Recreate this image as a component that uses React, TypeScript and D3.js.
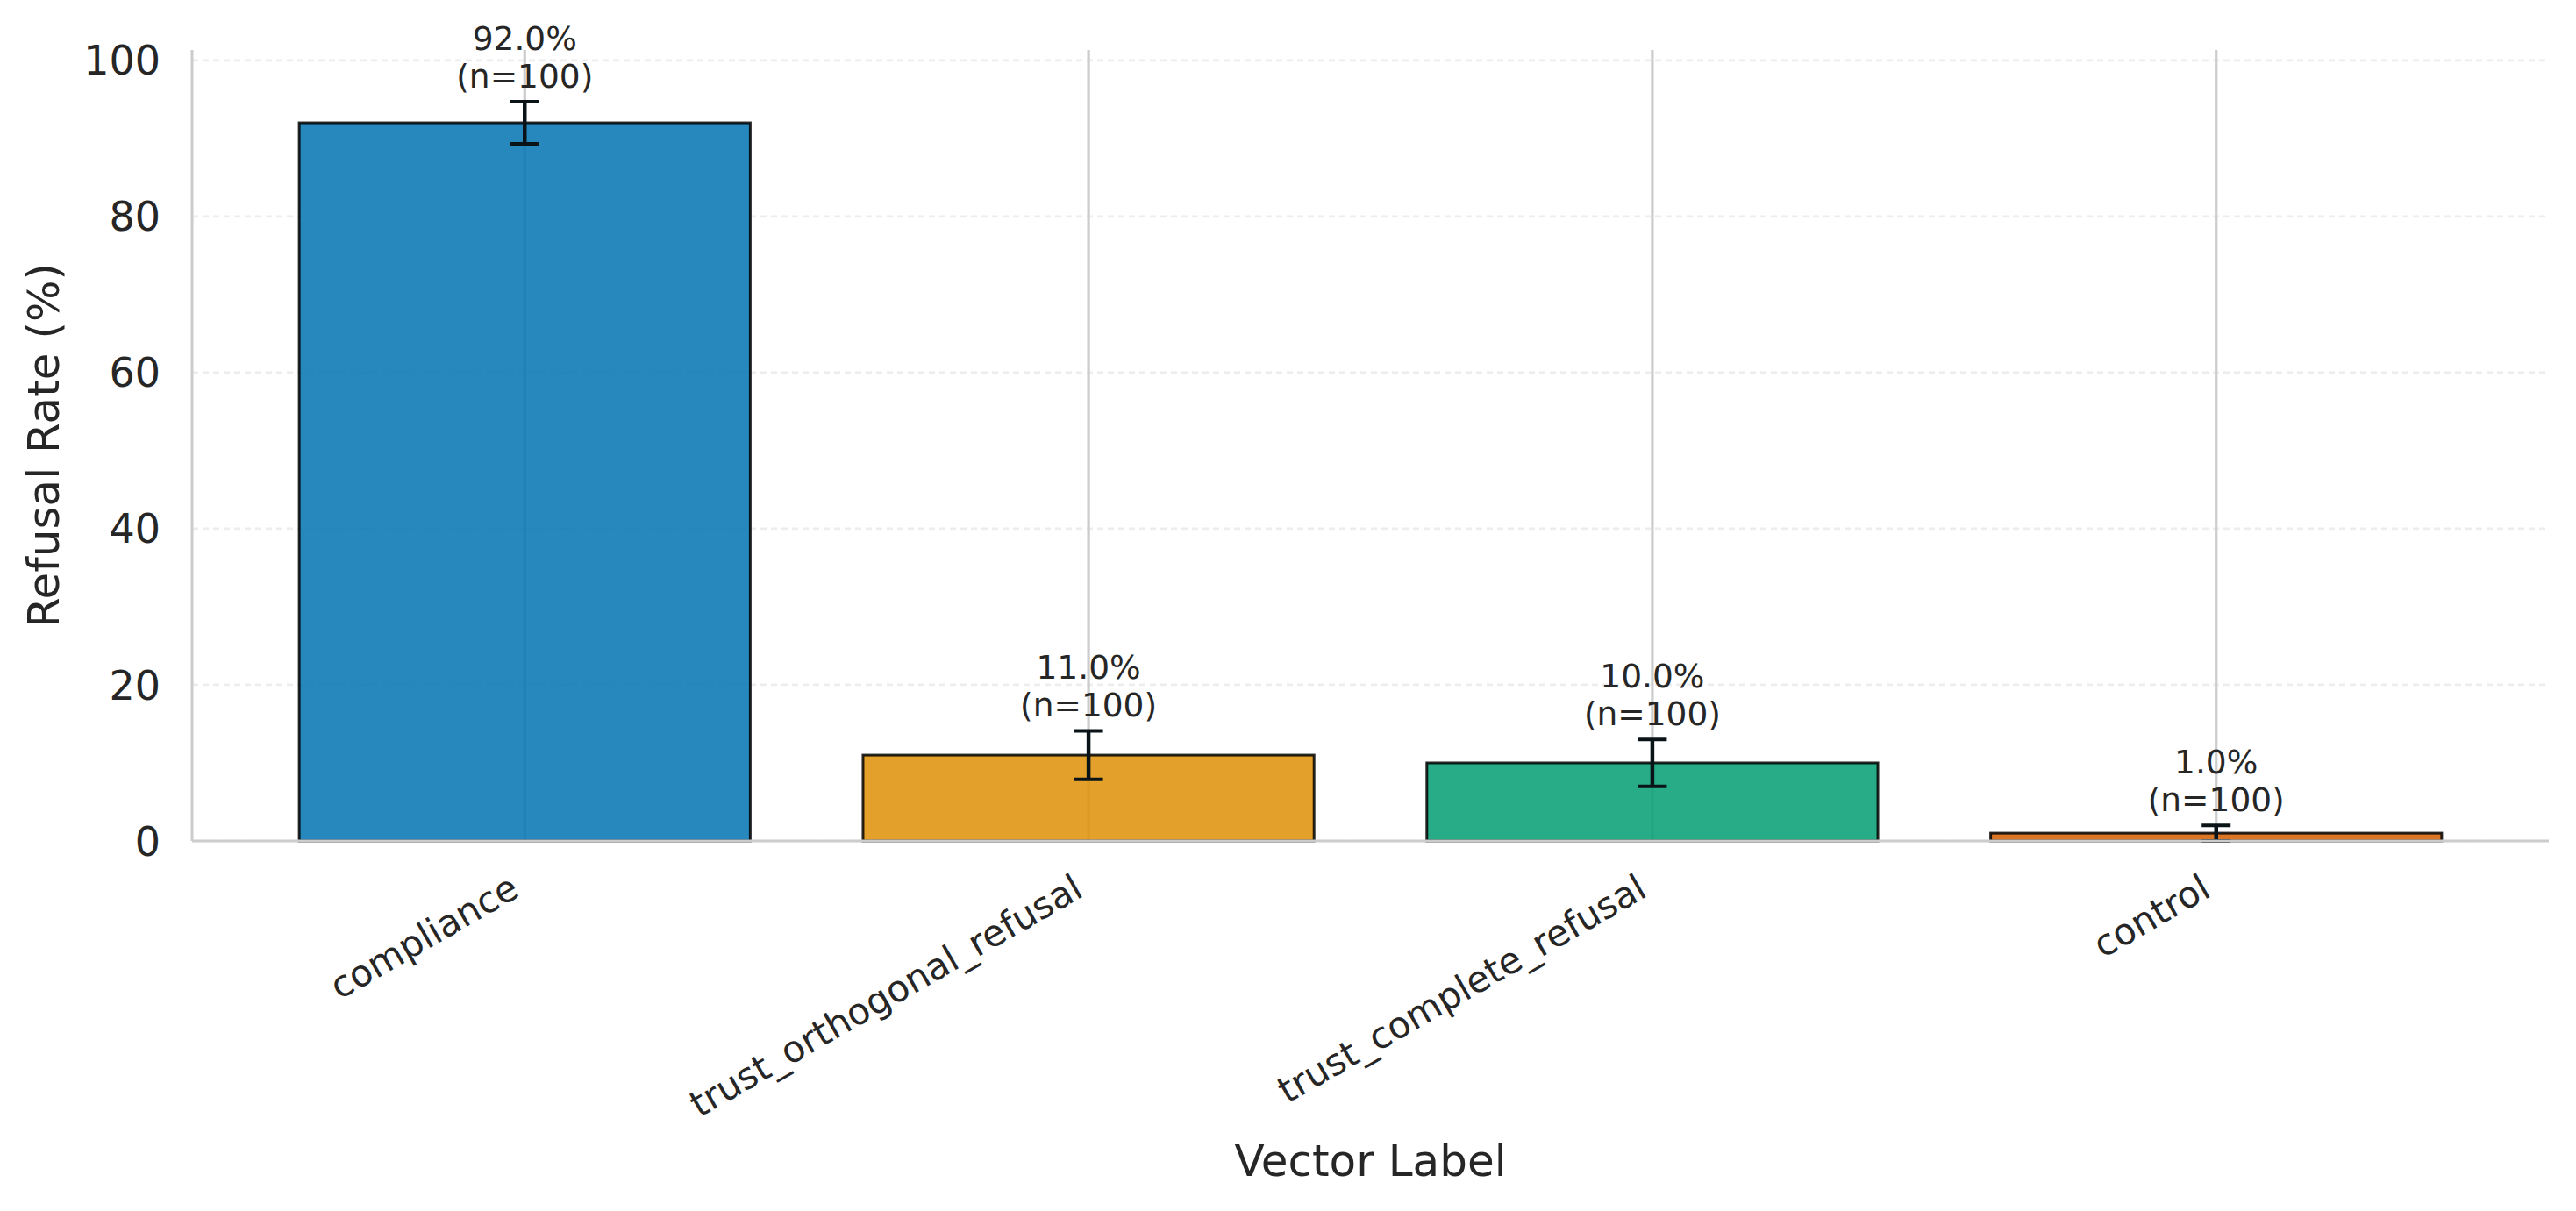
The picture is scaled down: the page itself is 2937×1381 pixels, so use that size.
import React, { useRef, useEffect } from 'react';
import * as d3 from 'd3';

// values
const labels = ['compliance', 'trust_orthogonal_refusal', 'trust_complete_refusal', 'control'];
const rates = [92.0, 11.0, 10.0, 1.0];
const errors = [2.7, 3.1, 3.0, 1.0];
const counts = [100, 100, 100, 100];
const colors = ['#0173b2', '#de8f05', '#029e73', '#d55e00'];
const yTicks = [0, 20, 40, 60, 80, 100];

const FONT = 'DejaVu Sans, sans-serif';

function RefusalChart() {
  const svgRef = useRef(null);

  useEffect(() => {
    const svg = d3.select(svgRef.current);
    svg.selectAll('*').remove();

    const width = 2937;
    const height = 1381;
    const margin = { top: 57, right: 31, bottom: 422, left: 219 };

    const yMax = d3.max(rates.map((r, i) => r + errors[i])) * 1.07;

    const x = d3.scaleLinear()
      .domain([-0.59, labels.length - 1 + 0.59])
      .range([margin.left, width - margin.right]);

    const y = d3.scaleLinear()
      .domain([0, yMax])
      .range([height - margin.bottom, margin.top]);

    const barW = x(0.8) - x(0);

    // horizontal dashed grid
    svg.append('g')
      .selectAll('line')
      .data(yTicks)
      .enter().append('line')
      .attr('x1', margin.left)
      .attr('x2', width - margin.right)
      .attr('y1', d => y(d))
      .attr('y2', d => y(d))
      .attr('stroke', '#cccccc')
      .attr('stroke-opacity', 0.35)
      .attr('stroke-width', 2.7)
      .attr('stroke-dasharray', '7 5');

    // vertical grid at category centers
    svg.append('g')
      .selectAll('line')
      .data(labels)
      .enter().append('line')
      .attr('x1', (d, i) => x(i))
      .attr('x2', (d, i) => x(i))
      .attr('y1', margin.top)
      .attr('y2', height - margin.bottom)
      .attr('stroke', '#cccccc')
      .attr('stroke-width', 3.2);

    // bars
    svg.append('g')
      .selectAll('rect')
      .data(rates)
      .enter().append('rect')
      .attr('x', (d, i) => x(i) - barW / 2)
      .attr('width', barW)
      .attr('y', d => y(d))
      .attr('height', d => y(0) - y(d))
      .attr('fill', (d, i) => colors[i])
      .attr('fill-opacity', 0.85)
      .attr('stroke', '#000')
      .attr('stroke-opacity', 0.85)
      .attr('stroke-width', 3);

    // error bars
    const cap = 16.5;
    const eb = svg.append('g').attr('stroke', '#0a1418');
    rates.forEach((r, i) => {
      const lo = Math.max(0, r - errors[i]);
      const hi = r + errors[i];
      eb.append('line')
        .attr('x1', x(i)).attr('x2', x(i))
        .attr('y1', y(lo)).attr('y2', y(hi))
        .attr('stroke-width', 4.5);
      [lo, hi].forEach(v => {
        eb.append('line')
          .attr('x1', x(i) - cap).attr('x2', x(i) + cap)
          .attr('y1', y(v)).attr('y2', y(v))
          .attr('stroke-width', 4);
      });
    });

    // annotations
    const ann = svg.append('g')
      .attr('font-family', FONT)
      .attr('font-size', 37.5)
      .attr('fill', '#262626')
      .attr('text-anchor', 'middle');
    rates.forEach((r, i) => {
      const base = y(r + errors[i]) - 16;
      ann.append('text')
        .attr('x', x(i)).attr('y', base - 43)
        .text(`${r.toFixed(1)}%`);
      ann.append('text')
        .attr('x', x(i)).attr('y', base)
        .text(`(n=${counts[i]})`);
    });

    // spines
    svg.append('line')
      .attr('x1', margin.left).attr('x2', margin.left)
      .attr('y1', margin.top).attr('y2', height - margin.bottom)
      .attr('stroke', '#cccccc').attr('stroke-width', 3);
    svg.append('line')
      .attr('x1', margin.left).attr('x2', width - margin.right)
      .attr('y1', height - margin.bottom).attr('y2', height - margin.bottom)
      .attr('stroke', '#cccccc').attr('stroke-width', 3);

    // y tick labels
    svg.append('g')
      .attr('font-family', FONT)
      .attr('font-size', 46)
      .attr('fill', '#262626')
      .attr('text-anchor', 'end')
      .selectAll('text')
      .data(yTicks)
      .enter().append('text')
      .attr('x', margin.left - 36)
      .attr('y', d => y(d))
      .attr('dy', '0.36em')
      .text(d => d);

    // x tick labels, rotated
    svg.append('g')
      .attr('font-family', FONT)
      .attr('font-size', 41.7)
      .attr('fill', '#262626')
      .attr('text-anchor', 'end')
      .selectAll('text')
      .data(labels)
      .enter().append('text')
      .attr('transform', (d, i) => `translate(${x(i) - 4},${height - margin.bottom + 62}) rotate(-30)`)
      .text(d => d);

    // axis titles
    svg.append('text')
      .attr('x', (margin.left + width - margin.right) / 2)
      .attr('y', 1341)
      .attr('text-anchor', 'middle')
      .attr('font-family', FONT)
      .attr('font-size', 50)
      .attr('fill', '#262626')
      .text('Vector Label');

    svg.append('text')
      .attr('transform', `translate(67,${(margin.top + height - margin.bottom) / 2}) rotate(-90)`)
      .attr('text-anchor', 'middle')
      .attr('font-family', FONT)
      .attr('font-size', 50)
      .attr('fill', '#262626')
      .text('Refusal Rate (%)');
  }, []);

  return <svg ref={svgRef} width={2937} height={1381} viewBox="0 0 2937 1381" style={{ display: 'block', background: '#fff' }} />;
}

export default function App() {
  useEffect(() => {
    document.body.style.margin = '0';
  }, []);
  return <RefusalChart />;
}
